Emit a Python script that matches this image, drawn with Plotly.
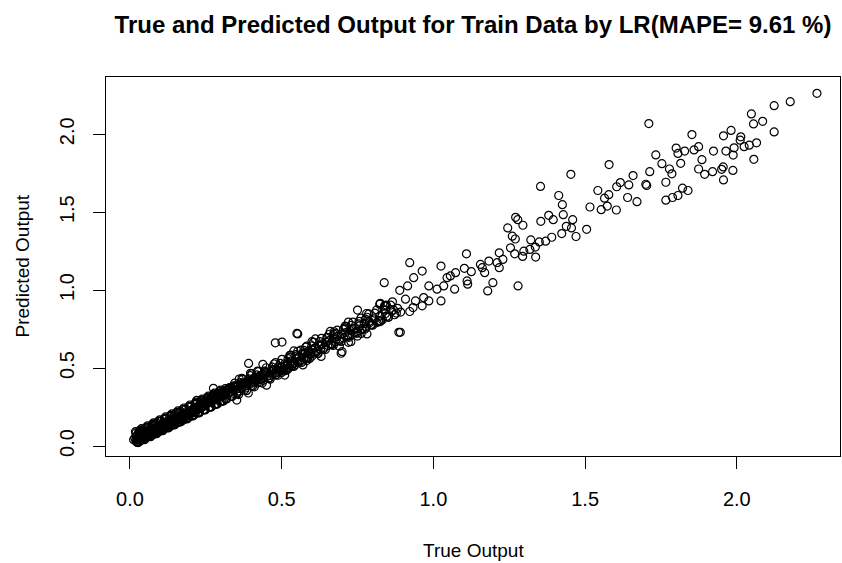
import plotly.graph_objects as go

# ---- data: true output (x) vs LR predicted output (y), training set ----

# dense band near the origin
true_band_a = [
    0.012, 0.016, 0.019, 0.021, 0.023, 0.025, 0.027, 0.029, 0.031, 0.033,
    0.034, 0.036, 0.038, 0.040, 0.041, 0.043, 0.045, 0.047, 0.048, 0.050,
    0.052, 0.054, 0.055, 0.057, 0.059, 0.061, 0.062, 0.064, 0.066, 0.068,
    0.070, 0.071, 0.073, 0.075, 0.077, 0.079, 0.080, 0.082, 0.084, 0.086,
    0.088, 0.090, 0.092, 0.094, 0.096, 0.098, 0.100, 0.102, 0.104, 0.106,
    0.108, 0.110, 0.112, 0.114, 0.116, 0.118, 0.120, 0.123, 0.125, 0.127,
    0.130, 0.132, 0.134, 0.137, 0.139, 0.141, 0.144, 0.146, 0.148, 0.151,
    0.153, 0.155, 0.158, 0.160, 0.162, 0.165, 0.167, 0.170, 0.172, 0.175,
    0.177, 0.180, 0.182, 0.185, 0.187, 0.190, 0.192, 0.195, 0.197, 0.200,
    0.202, 0.205, 0.208, 0.210, 0.213, 0.216, 0.218, 0.221, 0.224, 0.227,
    0.230, 0.233, 0.236, 0.239, 0.242, 0.245, 0.248, 0.251, 0.254, 0.257,
    0.260, 0.263, 0.266, 0.270, 0.273, 0.276, 0.280, 0.283, 0.287, 0.290,
    0.294, 0.298, 0.301, 0.305, 0.309, 0.312, 0.316, 0.320, 0.324, 0.328,
]
pred_band_a = [
    0.040, 0.052, 0.036, 0.061, 0.045, 0.070, 0.050, 0.039, 0.064, 0.055,
    0.078, 0.046, 0.067, 0.058, 0.083, 0.049, 0.072, 0.061, 0.089, 0.066,
    0.057, 0.081, 0.094, 0.069, 0.060, 0.088, 0.076, 0.101, 0.070, 0.084,
    0.096, 0.074, 0.107, 0.085, 0.099, 0.078, 0.112, 0.093, 0.087, 0.118,
    0.101, 0.089, 0.124, 0.110, 0.097, 0.131, 0.115, 0.106, 0.128, 0.119,
    0.140, 0.112, 0.133, 0.124, 0.148, 0.121, 0.139, 0.132, 0.157, 0.128,
    0.150, 0.141, 0.166, 0.137, 0.158, 0.172, 0.148, 0.163, 0.155, 0.179,
    0.164, 0.187, 0.170, 0.158, 0.183, 0.176, 0.195, 0.168, 0.190, 0.184,
    0.205, 0.181, 0.198, 0.213, 0.192, 0.207, 0.220, 0.199, 0.214, 0.226,
    0.208, 0.232, 0.219, 0.241, 0.226, 0.214, 0.247, 0.233, 0.255, 0.238,
    0.262, 0.244, 0.269, 0.251, 0.277, 0.259, 0.285, 0.266, 0.272, 0.292,
    0.278, 0.299, 0.284, 0.306, 0.291, 0.312, 0.297, 0.319, 0.305, 0.324,
    0.311, 0.334, 0.318, 0.341, 0.325, 0.348, 0.333, 0.355, 0.339, 0.362,
]

true_band_b = [
    0.022, 0.030, 0.037, 0.044, 0.051, 0.058, 0.065, 0.072, 0.079, 0.086,
    0.093, 0.100, 0.107, 0.114, 0.121, 0.128, 0.135, 0.142, 0.149, 0.156,
    0.163, 0.171, 0.179, 0.186, 0.194, 0.201, 0.209, 0.217, 0.225, 0.233,
    0.241, 0.249, 0.257, 0.265, 0.273, 0.281, 0.289, 0.297, 0.305, 0.313,
]
pred_band_b = [
    0.066, 0.044, 0.053, 0.070, 0.075, 0.065, 0.092, 0.081, 0.104, 0.095,
    0.113, 0.136, 0.125, 0.141, 0.127, 0.146, 0.152, 0.160, 0.169, 0.174,
    0.178, 0.198, 0.191, 0.202, 0.211, 0.219, 0.228, 0.236, 0.244, 0.253,
    0.258, 0.271, 0.276, 0.290, 0.298, 0.304, 0.315, 0.322, 0.330, 0.340,
]

# outer edges of the low band
true_band_e = [
    0.020, 0.026, 0.032, 0.039, 0.046, 0.053, 0.060, 0.067, 0.074, 0.081,
    0.088, 0.095, 0.103, 0.111, 0.119, 0.127, 0.135, 0.143, 0.151, 0.159,
    0.167, 0.175, 0.184, 0.193, 0.202, 0.211, 0.220, 0.229, 0.238, 0.247,
    0.256, 0.265, 0.274, 0.283, 0.292, 0.301, 0.310, 0.319, 0.328, 0.337,
]
pred_band_e = [
    0.084, 0.028, 0.094, 0.038, 0.108, 0.052, 0.121, 0.065, 0.134, 0.078,
    0.148, 0.091, 0.162, 0.106, 0.177, 0.121, 0.192, 0.137, 0.207, 0.151,
    0.222, 0.167, 0.238, 0.183, 0.255, 0.200, 0.272, 0.217, 0.289, 0.234,
    0.306, 0.251, 0.323, 0.268, 0.340, 0.285, 0.356, 0.302, 0.374, 0.318,
]

true_band_f = [
    0.023, 0.029, 0.035, 0.042, 0.049, 0.056, 0.063, 0.070, 0.077, 0.084,
    0.091, 0.099, 0.107, 0.115, 0.123, 0.131, 0.139, 0.147, 0.155, 0.163,
    0.171, 0.180, 0.189, 0.198, 0.207, 0.216, 0.225, 0.234, 0.243, 0.252,
    0.261, 0.270, 0.279, 0.288, 0.297, 0.306, 0.315, 0.324, 0.333, 0.342,
]
pred_band_f = [
    0.026, 0.090, 0.035, 0.102, 0.049, 0.115, 0.062, 0.128, 0.075, 0.142,
    0.088, 0.156, 0.104, 0.170, 0.118, 0.186, 0.134, 0.201, 0.149, 0.216,
    0.164, 0.233, 0.182, 0.249, 0.199, 0.266, 0.216, 0.283, 0.233, 0.300,
    0.250, 0.318, 0.267, 0.336, 0.284, 0.352, 0.301, 0.369, 0.318, 0.386,
]

true_band_i = [
    0.018, 0.028, 0.038, 0.048, 0.058, 0.068, 0.078, 0.088, 0.098, 0.108,
    0.118, 0.128, 0.138, 0.148, 0.158, 0.168, 0.178, 0.188, 0.198, 0.208,
    0.218, 0.228, 0.238, 0.248, 0.258, 0.268, 0.278, 0.288, 0.298, 0.308,
]
pred_band_i = [
    0.092, 0.022, 0.111, 0.041, 0.130, 0.060, 0.149, 0.079, 0.168, 0.098,
    0.187, 0.117, 0.206, 0.136, 0.225, 0.155, 0.244, 0.174, 0.263, 0.193,
    0.282, 0.212, 0.301, 0.231, 0.320, 0.250, 0.339, 0.269, 0.358, 0.288,
]

true_band_j = [
    0.024, 0.034, 0.044, 0.054, 0.064, 0.074, 0.084, 0.094, 0.104, 0.114,
    0.124, 0.134, 0.144, 0.154, 0.164, 0.174, 0.184, 0.194, 0.204, 0.214,
    0.224, 0.234, 0.244, 0.254, 0.264, 0.274, 0.284, 0.294, 0.304, 0.314,
]
pred_band_j = [
    0.023, 0.102, 0.042, 0.121, 0.061, 0.140, 0.080, 0.159, 0.099, 0.178,
    0.118, 0.197, 0.137, 0.216, 0.156, 0.235, 0.175, 0.254, 0.194, 0.273,
    0.213, 0.292, 0.232, 0.311, 0.251, 0.330, 0.270, 0.349, 0.289, 0.368,
]

# band in the middle range
true_band_c = [
    0.332, 0.336, 0.340, 0.344, 0.348, 0.352, 0.356, 0.360, 0.364, 0.368,
    0.372, 0.376, 0.380, 0.384, 0.388, 0.392, 0.396, 0.400, 0.404, 0.408,
    0.412, 0.416, 0.420, 0.425, 0.429, 0.433, 0.438, 0.442, 0.446, 0.451,
    0.455, 0.460, 0.464, 0.469, 0.473, 0.478, 0.482, 0.487, 0.491, 0.496,
    0.500, 0.505, 0.510, 0.514, 0.519, 0.524, 0.528, 0.533, 0.538, 0.543,
    0.548, 0.553, 0.558, 0.563, 0.568, 0.573, 0.578, 0.583, 0.588, 0.593,
    0.598, 0.604, 0.610, 0.616, 0.622, 0.628, 0.634, 0.640, 0.646, 0.652,
    0.658, 0.664, 0.670, 0.677, 0.684, 0.690, 0.697, 0.704, 0.711, 0.718,
    0.725, 0.732, 0.740, 0.748, 0.756, 0.764, 0.772, 0.780, 0.788, 0.796,
    0.805, 0.814, 0.823, 0.832, 0.842, 0.852, 0.862, 0.872, 0.882, 0.892,
]
pred_band_c = [
    0.349, 0.371, 0.356, 0.378, 0.362, 0.345, 0.384, 0.369, 0.391, 0.375,
    0.398, 0.382, 0.405, 0.389, 0.412, 0.396, 0.420, 0.403, 0.427, 0.410,
    0.434, 0.417, 0.441, 0.425, 0.449, 0.432, 0.456, 0.439, 0.463, 0.446,
    0.470, 0.452, 0.477, 0.460, 0.484, 0.467, 0.491, 0.474, 0.498, 0.481,
    0.505, 0.488, 0.513, 0.496, 0.520, 0.503, 0.528, 0.511, 0.535, 0.518,
    0.561, 0.540, 0.575, 0.553, 0.588, 0.566, 0.596, 0.574, 0.607, 0.585,
    0.618, 0.596, 0.630, 0.607, 0.642, 0.620, 0.655, 0.633, 0.667, 0.645,
    0.678, 0.655, 0.690, 0.668, 0.703, 0.680, 0.716, 0.693, 0.728, 0.706,
    0.741, 0.718, 0.756, 0.733, 0.770, 0.748, 0.785, 0.762, 0.800, 0.777,
    0.815, 0.792, 0.833, 0.810, 0.850, 0.826, 0.866, 0.842, 0.883, 0.859,
]

true_band_d = [
    0.340, 0.350, 0.360, 0.370, 0.380, 0.390, 0.400, 0.410, 0.420, 0.430,
    0.440, 0.450, 0.460, 0.470, 0.480, 0.490, 0.500, 0.510, 0.520, 0.530,
    0.540, 0.550, 0.560, 0.570, 0.580, 0.590, 0.600, 0.610, 0.620, 0.630,
]
pred_band_d = [
    0.338, 0.388, 0.352, 0.402, 0.372, 0.418, 0.388, 0.438, 0.405, 0.452,
    0.422, 0.474, 0.438, 0.490, 0.455, 0.508, 0.472, 0.527, 0.492, 0.545,
    0.530, 0.578, 0.545, 0.594, 0.560, 0.611, 0.577, 0.628, 0.593, 0.646,
]

# wider spread of the middle band
true_band_g = [
    0.345, 0.358, 0.371, 0.384, 0.397, 0.410, 0.423, 0.436, 0.449, 0.462,
    0.475, 0.488, 0.501, 0.514, 0.527, 0.540, 0.553, 0.566, 0.579, 0.592,
    0.605, 0.618, 0.631, 0.644, 0.657, 0.670, 0.683, 0.696, 0.709, 0.722,
    0.735, 0.748, 0.761, 0.774, 0.787, 0.800, 0.813, 0.826, 0.839, 0.852,
    0.865, 0.878,
]
pred_band_g = [
    0.403, 0.330, 0.427, 0.355, 0.452, 0.380, 0.477, 0.404, 0.502, 0.429,
    0.526, 0.454, 0.556, 0.484, 0.582, 0.510, 0.608, 0.536, 0.634, 0.562,
    0.665, 0.593, 0.691, 0.619, 0.717, 0.645, 0.743, 0.671, 0.769, 0.697,
    0.795, 0.723, 0.821, 0.749, 0.847, 0.775, 0.873, 0.801, 0.899, 0.827,
    0.925, 0.853,
]

true_band_h = [
    0.352, 0.365, 0.378, 0.391, 0.404, 0.417, 0.430, 0.443, 0.456, 0.469,
    0.482, 0.495, 0.508, 0.521, 0.534, 0.547, 0.560, 0.573, 0.586, 0.599,
    0.612, 0.625, 0.638, 0.651, 0.664, 0.677, 0.690, 0.703, 0.716, 0.729,
    0.742, 0.755, 0.768, 0.781, 0.794, 0.807, 0.820, 0.833, 0.846, 0.859,
]
pred_band_h = [
    0.334, 0.407, 0.359, 0.431, 0.384, 0.456, 0.409, 0.481, 0.433, 0.506,
    0.458, 0.530, 0.488, 0.561, 0.514, 0.587, 0.540, 0.613, 0.566, 0.642,
    0.597, 0.670, 0.623, 0.696, 0.649, 0.722, 0.675, 0.748, 0.701, 0.774,
    0.727, 0.800, 0.753, 0.826, 0.779, 0.852, 0.805, 0.878, 0.831, 0.904,
]

true_band_k = [
    0.360, 0.390, 0.420, 0.450, 0.480, 0.510, 0.540, 0.570,
    0.600, 0.630, 0.660, 0.690, 0.720, 0.750, 0.780,
]
pred_band_k = [
    0.430, 0.340, 0.480, 0.390, 0.535, 0.455, 0.610, 0.520,
    0.670, 0.575, 0.735, 0.640, 0.795, 0.705, 0.850,
]

# scattered points around the band (0.2 - 0.9)
true_spread = [
    0.550, 0.479, 0.501, 0.391, 0.438, 0.275, 0.397, 0.369, 0.563, 0.583,
    0.530, 0.352, 0.341, 0.220, 0.402, 0.495, 0.528, 0.583, 0.553, 0.611,
    0.649, 0.660, 0.671, 0.696, 0.720, 0.710, 0.737, 0.754, 0.776, 0.750,
    0.781, 0.823, 0.842, 0.869, 0.842, 0.886, 0.838, 0.889, 0.699, 0.728,
    0.762, 0.712, 0.673, 0.789, 0.822, 0.845, 0.825,
]
pred_spread = [
    0.722, 0.662, 0.667, 0.530, 0.524, 0.370, 0.466, 0.434, 0.615, 0.641,
    0.583, 0.295, 0.380, 0.293, 0.464, 0.485, 0.570, 0.548, 0.719, 0.687,
    0.697, 0.655, 0.719, 0.595, 0.665, 0.757, 0.751, 0.783, 0.814, 0.872,
    0.719, 0.910, 0.899, 0.872, 0.872, 0.729, 1.048, 0.999, 0.605, 0.669,
    0.722, 0.765, 0.733, 0.790, 0.797, 0.904, 0.915,
]

# upper range (true output > 0.9)
true_upper = [
    2.264, 2.176, 2.123, 2.048, 2.085, 2.055, 2.123, 1.710, 1.852, 1.956,
    1.981, 2.013, 2.011, 1.991, 2.024, 2.041, 2.065, 1.964, 1.988, 2.056,
    1.923, 1.874, 1.859, 1.828, 1.800, 1.806, 1.815, 1.885, 1.874, 1.894,
    1.920, 1.950, 1.955, 1.987, 1.956, 1.839, 1.821, 1.806, 1.788, 1.766,
    1.766, 1.786, 1.778, 1.753, 1.733, 1.713, 1.700, 1.703, 1.658, 1.644,
    1.640, 1.671, 1.616, 1.604, 1.579, 1.578, 1.564, 1.542, 1.573, 1.553,
    1.603, 1.516, 1.505, 1.453, 1.413, 1.425, 1.428, 1.459, 1.353, 1.380,
    1.395, 1.354, 1.438, 1.455, 1.423, 1.470, 1.390, 1.370, 1.349, 1.321,
    1.336, 1.337, 1.318, 1.298, 1.294, 1.271, 1.278, 1.295, 1.245, 1.260,
    1.270, 1.254, 1.268, 1.279, 1.217, 1.229, 1.210, 1.217, 1.183, 1.155,
    1.161, 1.169, 1.196, 1.179, 1.109, 1.125, 1.102, 1.111, 1.113, 1.073,
    1.056, 1.045, 1.070, 1.025, 1.034, 1.025, 1.012, 0.985, 0.985, 0.963,
    0.935, 0.922, 0.915, 0.968, 0.941, 0.963, 0.933, 0.922, 0.908, 0.891,
]
pred_upper = [
    2.262, 2.209, 2.183, 2.130, 2.083, 2.066, 2.015, 2.068, 1.998, 1.990,
    2.024, 1.983, 1.962, 1.913, 1.920, 1.930, 1.945, 1.892, 1.866, 1.839,
    1.892, 1.920, 1.899, 1.892, 1.911, 1.877, 1.813, 1.837, 1.777, 1.743,
    1.760, 1.775, 1.790, 1.768, 1.707, 1.639, 1.654, 1.607, 1.594, 1.577,
    1.692, 1.746, 1.777, 1.811, 1.867, 1.760, 1.679, 1.671, 1.735, 1.675,
    1.594, 1.567, 1.690, 1.663, 1.805, 1.612, 1.590, 1.639, 1.539, 1.516,
    1.514, 1.533, 1.390, 1.743, 1.607, 1.548, 1.484, 1.452, 1.665, 1.480,
    1.452, 1.441, 1.409, 1.399, 1.363, 1.344, 1.339, 1.314, 1.309, 1.322,
    1.276, 1.212, 1.261, 1.250, 1.216, 1.467, 1.452, 1.416, 1.399, 1.346,
    1.328, 1.271, 1.233, 1.027, 1.239, 1.197, 1.176, 1.144, 1.186, 1.165,
    1.144, 1.112, 1.048, 0.995, 1.233, 1.118, 1.140, 1.059, 1.038, 1.112,
    1.091, 1.080, 1.006, 1.154, 1.027, 0.931, 1.006, 1.027, 0.931, 1.122,
    1.080, 1.176, 1.027, 0.952, 0.931, 0.899, 0.888, 0.863, 0.942, 0.729,
]

tick_values = [0.0, 0.5, 1.0, 1.5, 2.0]
mape = 9.61

true_output = (true_band_a + true_band_b + true_band_e + true_band_f + true_band_i
               + true_band_j + true_band_c + true_band_d + true_band_g + true_band_h
               + true_band_k + true_spread + true_upper)
pred_output = (pred_band_a + pred_band_b + pred_band_e + pred_band_f + pred_band_i
               + pred_band_j + pred_band_c + pred_band_d + pred_band_g + pred_band_h
               + pred_band_k + pred_spread + pred_upper)
assert len(true_output) == len(pred_output)

FONT = "Liberation Sans, Arial, Helvetica, sans-serif"

fig = go.Figure(
    go.Scatter(
        x=true_output,
        y=pred_output,
        mode="markers",
        marker=dict(symbol="circle-open", size=8, color="black", line=dict(width=1.2, color="black")),
        hoverinfo="skip",
    )
)

axis_common = dict(
    showgrid=False,
    zeroline=False,
    showline=True,
    mirror=True,
    linecolor="black",
    linewidth=1,
    ticks="outside",
    ticklen=12,
    tickwidth=1,
    tickcolor="black",
    tickvals=tick_values,
    tickformat=".1f",
    tickfont=dict(family=FONT, size=20, color="black"),
)

fig.update_layout(
    width=842,
    height=563,
    margin=dict(l=106, r=2, t=77, b=107),
    paper_bgcolor="white",
    plot_bgcolor="white",
    showlegend=False,
    title=dict(
        text=f"<b>True and Predicted Output for Train Data by LR(MAPE= {mape} %)</b>",
        font=dict(family=FONT, size=24, color="black"),
        x=0.5,
        xref="paper",
        xanchor="center",
        y=1 - 25 / 563,
        yref="container",
        yanchor="middle",
    ),
    xaxis=dict(range=[-0.079, 2.340], ticklabelstandoff=13, **axis_common),
    yaxis=dict(range=[-0.064, 2.367], tickangle=-90, ticklabelstandoff=11, **axis_common),
    annotations=[
        dict(
            text="True Output",
            xref="paper", yref="paper",
            x=0.5, y=0,
            yshift=-94,
            xanchor="center", yanchor="middle",
            showarrow=False,
            font=dict(family=FONT, size=19, color="black"),
        ),
        dict(
            text="Predicted Output",
            xref="paper", yref="paper",
            x=0, y=0.5,
            xshift=-84,
            xanchor="center", yanchor="middle",
            textangle=-90,
            showarrow=False,
            font=dict(family=FONT, size=19, color="black"),
        ),
    ],
)

fig.write_html("out.html", config={"displayModeBar": False})
